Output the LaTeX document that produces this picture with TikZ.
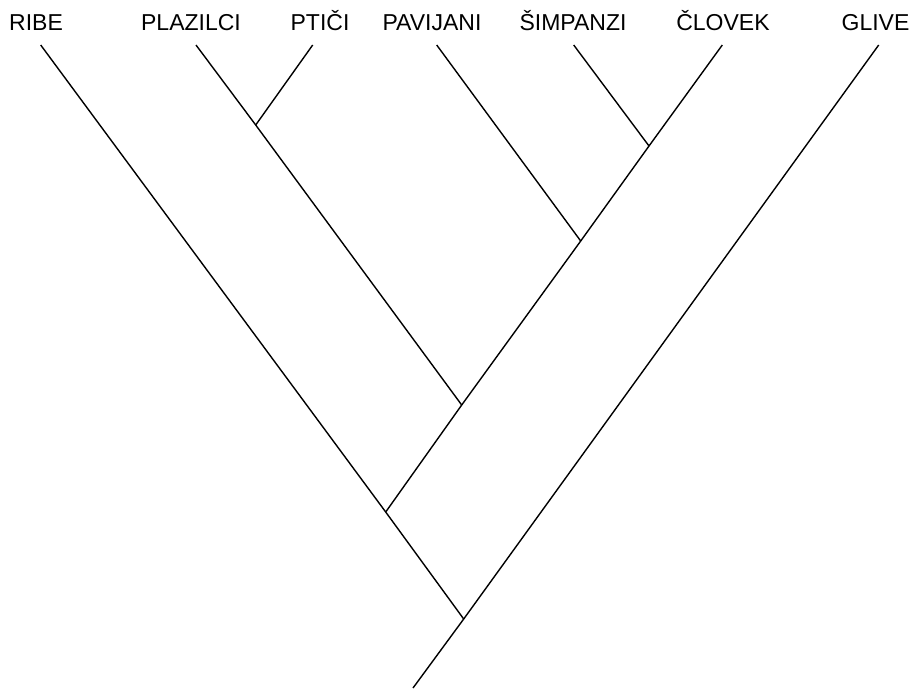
\documentclass[tikz,border=0pt]{standalone}
\usepackage{fontspec}
\setmainfont{Liberation Sans}
\begin{document}
\begin{tikzpicture}[x=1pt,y=-1pt,
  lbl/.style={anchor=base,font=\fontsize{23}{26}\selectfont,inner sep=0pt},
  br/.style={line width=1.4pt,line cap=butt}]
\useasboundingbox (0,0) rectangle (918,688);
\node[lbl] (ribe) at (36,30) {RIBE};
\node[lbl] (plaz) at (191,30) {PLAZILCI};
\node[lbl] (ptic) at (320,30) {PTIČI};
\node[lbl] (pavi) at (432,30) {PAVIJANI};
\node[lbl] (simp) at (573,30) {ŠIMPANZI};
\node[lbl] (clov) at (723,30) {ČLOVEK};
\node[lbl] (gliv) at (875.5,30) {GLIVE};
% leaf tips
\coordinate (tribe) at (40.7,45);
\coordinate (tplaz) at (196,45);
\coordinate (tptic) at (312.7,45);
\coordinate (tpavi) at (436.7,45);
\coordinate (tsimp) at (573.7,45);
\coordinate (tclov) at (722.3,45);
\coordinate (tgliv) at (878.7,45);
% internal junctions
\coordinate (jpp) at (255.7,125);
\coordinate (jsc) at (649,146);
\coordinate (jpsc) at (580.7,241);
\coordinate (jamn) at (461.7,405);
\coordinate (jvert) at (385.7,512);
\coordinate (jroot) at (463.7,619);
\coordinate (base) at (413,688);
% branches
\draw[br] (tribe) -- (jvert) -- (jroot);
\draw[br] (tgliv) -- (jroot) -- (base);
\draw[br] (tplaz) -- (jpp) -- (jamn);
\draw[br] (tptic) -- (jpp);
\draw[br] (tclov) -- (jsc) -- (jpsc) -- (jamn) -- (jvert);
\draw[br] (tsimp) -- (jsc);
\draw[br] (tpavi) -- (jpsc);
\end{tikzpicture}
\end{document}
